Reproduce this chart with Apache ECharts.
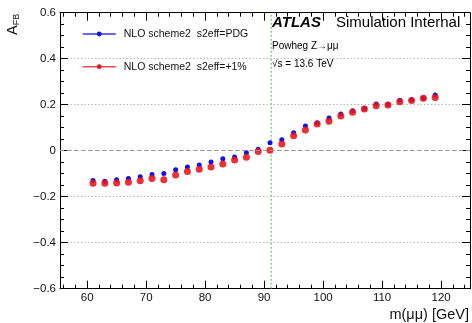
<!DOCTYPE html>
<html>
<head>
<meta charset="utf-8">
<script src="https://cdn.jsdelivr.net/npm/echarts@6/dist/echarts.min.js"></script>
<style>html,body{margin:0;padding:0;background:#fff}#c{width:472px;height:323px}</style>
</head>
<body>
<div id="c"></div>
<script>
// ---- data ----
const mass = [61,63,65,67,69,71,73,75,77,79,81,83,85,87,89,91,93,95,97,99,101,103,105,107,109,111,113,115,117,119];
const afbPDG = [-0.130,-0.133,-0.126,-0.121,-0.113,-0.104,-0.099,-0.083,-0.071,-0.062,-0.049,-0.035,-0.027,-0.009,0.006,0.035,0.048,0.078,0.107,0.122,0.142,0.160,0.174,0.184,0.203,0.202,0.219,0.222,0.229,0.242];
const afbPlus1 = [-0.141,-0.142,-0.140,-0.137,-0.131,-0.121,-0.126,-0.106,-0.090,-0.081,-0.071,-0.058,-0.040,-0.029,-0.003,0.002,0.029,0.065,0.090,0.116,0.128,0.151,0.167,0.181,0.195,0.199,0.213,0.218,0.228,0.231];
const seriesNames = ['NLO scheme2  s2eff=PDG', 'NLO scheme2  s2eff=+1%'];
const xMajorTicks = [60,70,80,90,100,110,120];
const xMinorTicks = [56,58,62,64,66,68,72,74,76,78,82,84,86,88,92,94,96,98,102,104,106,108,112,114,116,118,122,124];
const zMass = 91.19;
const yRange = [-0.6, 0.6];

const FONT = 'Liberation Sans, Arial, Helvetica, sans-serif';
const XMIN = 55.4, XMAX = 124.9;

function pairs(xs, ys){ return xs.map((x,i)=>[x, ys[i]]); }
function yFmt(v){
  const r = Math.round(v*10)/10;
  if (Math.abs(r) < 1e-9) return '0';
  return (r < 0 ? '\u2212' : '') + Math.abs(r).toFixed(1);
}

const chart = echarts.init(document.getElementById('c'), null, {renderer:'canvas'});
const axisLineStyle = {color:'#000', width:1};
const baseX = {type:'value', min:XMIN, max:XMAX, splitLine:{show:false}};
chart.setOption({
  animation:false,
  backgroundColor:'#fff',
  grid:{left:60, right:2, top:12.7, bottom:34.3, containLabel:false},
  legend:{
    orient:'vertical', left:77, top:22, itemWidth:33, itemHeight:6, itemGap:18.7,
    textStyle:{fontFamily:FONT, fontSize:10.5, color:'#111', lineHeight:14, padding:[0,0,0,3]},
    data:[
      {name:seriesNames[0], itemStyle:{color:'#1010ee'}, lineStyle:{width:1.5, color:'#3434f0', opacity:1, type:'solid'}},
      {name:seriesNames[1], itemStyle:{color:'#e8181c'}, lineStyle:{width:1.5, color:'#ec4a4a', opacity:1, type:'solid'}}
    ]
  },
  xAxis:[
    Object.assign({}, baseX, {position:'bottom',
      axisLine:{show:true, onZero:false, lineStyle:axisLineStyle},
      axisTick:{show:true, inside:true, length:8, lineStyle:axisLineStyle, customValues:xMajorTicks},
      axisLabel:{show:true, margin:3, fontFamily:FONT, fontSize:11.5, color:'#111', customValues:xMajorTicks}}),
    Object.assign({}, baseX, {position:'bottom',
      axisLine:{show:false, onZero:false},
      axisTick:{show:true, inside:true, length:4, lineStyle:axisLineStyle, customValues:xMinorTicks},
      axisLabel:{show:false}}),
    Object.assign({}, baseX, {position:'top',
      axisLine:{show:true, onZero:false, lineStyle:axisLineStyle},
      axisTick:{show:true, inside:true, length:8, lineStyle:axisLineStyle, customValues:xMajorTicks},
      axisLabel:{show:false}}),
    Object.assign({}, baseX, {position:'top',
      axisLine:{show:false, onZero:false},
      axisTick:{show:true, inside:true, length:4, lineStyle:axisLineStyle, customValues:xMinorTicks},
      axisLabel:{show:false}})
  ],
  yAxis:[
    {type:'value', min:-0.6, max:0.6, interval:0.2, position:'left',
     axisLine:{show:true, onZero:false, lineStyle:axisLineStyle},
     axisTick:{show:true, inside:true, length:8, lineStyle:axisLineStyle},
     minorTick:{show:true, splitNumber:4, length:4, lineStyle:axisLineStyle},
     splitLine:{show:true, lineStyle:{color:'#b8b8b8', type:[1.5,2], width:1}},
     axisLabel:{margin:4, fontFamily:FONT, fontSize:11.5, color:'#111', formatter:yFmt}},
    {type:'value', min:-0.6, max:0.6, interval:0.2, position:'right',
     axisLine:{show:true, onZero:false, lineStyle:axisLineStyle},
     axisTick:{show:true, inside:true, length:8, lineStyle:axisLineStyle},
     minorTick:{show:true, splitNumber:4, length:4, lineStyle:axisLineStyle},
     splitLine:{show:false}, axisLabel:{show:false}}
  ],
  series:[
    {name:'zpole', type:'line', xAxisIndex:0, yAxisIndex:0,
     data:[[zMass, yRange[0]], [zMass, yRange[1]]], showSymbol:false, symbol:'none', silent:true,
     lineStyle:{color:'#3cc43c', type:[2,2], width:1}, z:1},
    {name:seriesNames[0], type:'line', xAxisIndex:0, yAxisIndex:0, data:pairs(mass, afbPDG),
     symbol:'circle', symbolSize:5, showSymbol:true,
     itemStyle:{color:'#1010ee'}, lineStyle:{width:0, opacity:0}, z:3,
     markLine:{silent:true, symbol:'none', label:{show:false},
       lineStyle:{color:'#999', type:[4,3], width:1.2},
       data:[{yAxis:0}]}},
    {name:seriesNames[1], type:'line', xAxisIndex:0, yAxisIndex:0, data:pairs(mass, afbPlus1),
     symbol:'circle', symbolSize:7, showSymbol:true,
     itemStyle:{color:'rgba(232,20,24,0.88)'}, lineStyle:{width:0, opacity:0}, z:4}
  ],
  graphic:[
    {type:'text', x:21, y:35, rotation:Math.PI/2, silent:true,
     style:{text:'{a|A}{b|FB}', align:'left', verticalAlign:'bottom', fill:'#111',
       rich:{a:{fontFamily:FONT, fontSize:14.5, lineHeight:16, fill:'#111'},
             b:{fontFamily:FONT, fontSize:9, lineHeight:10, verticalAlign:'bottom', fill:'#111'}}}},
    {type:'text', x:272, y:23, silent:true,
     style:{text:'ATLAS', fontFamily:FONT, fontSize:15, fontWeight:'bold', fontStyle:'italic', fill:'#000', verticalAlign:'middle'}},
    {type:'text', x:336, y:23, silent:true,
     style:{text:'Simulation Internal', fontFamily:FONT, fontSize:15, fill:'#000', verticalAlign:'middle'}},
    {type:'text', x:272, y:46, silent:true,
     style:{text:'Powheg Z\u2192\u03bc\u03bc', fontFamily:FONT, fontSize:10, fill:'#000', verticalAlign:'middle'}},
    {type:'text', x:272, y:64.5, silent:true,
     style:{text:'\u221as = 13.6 TeV', fontFamily:FONT, fontSize:10, fill:'#000', verticalAlign:'middle'}},
    {type:'text', x:469, y:314.5, silent:true,
     style:{text:'m(\u03bc\u03bc) [GeV]', fontFamily:FONT, fontSize:14.5, fill:'#111', align:'right', verticalAlign:'middle'}}
  ]
});
</script>
</body>
</html>
